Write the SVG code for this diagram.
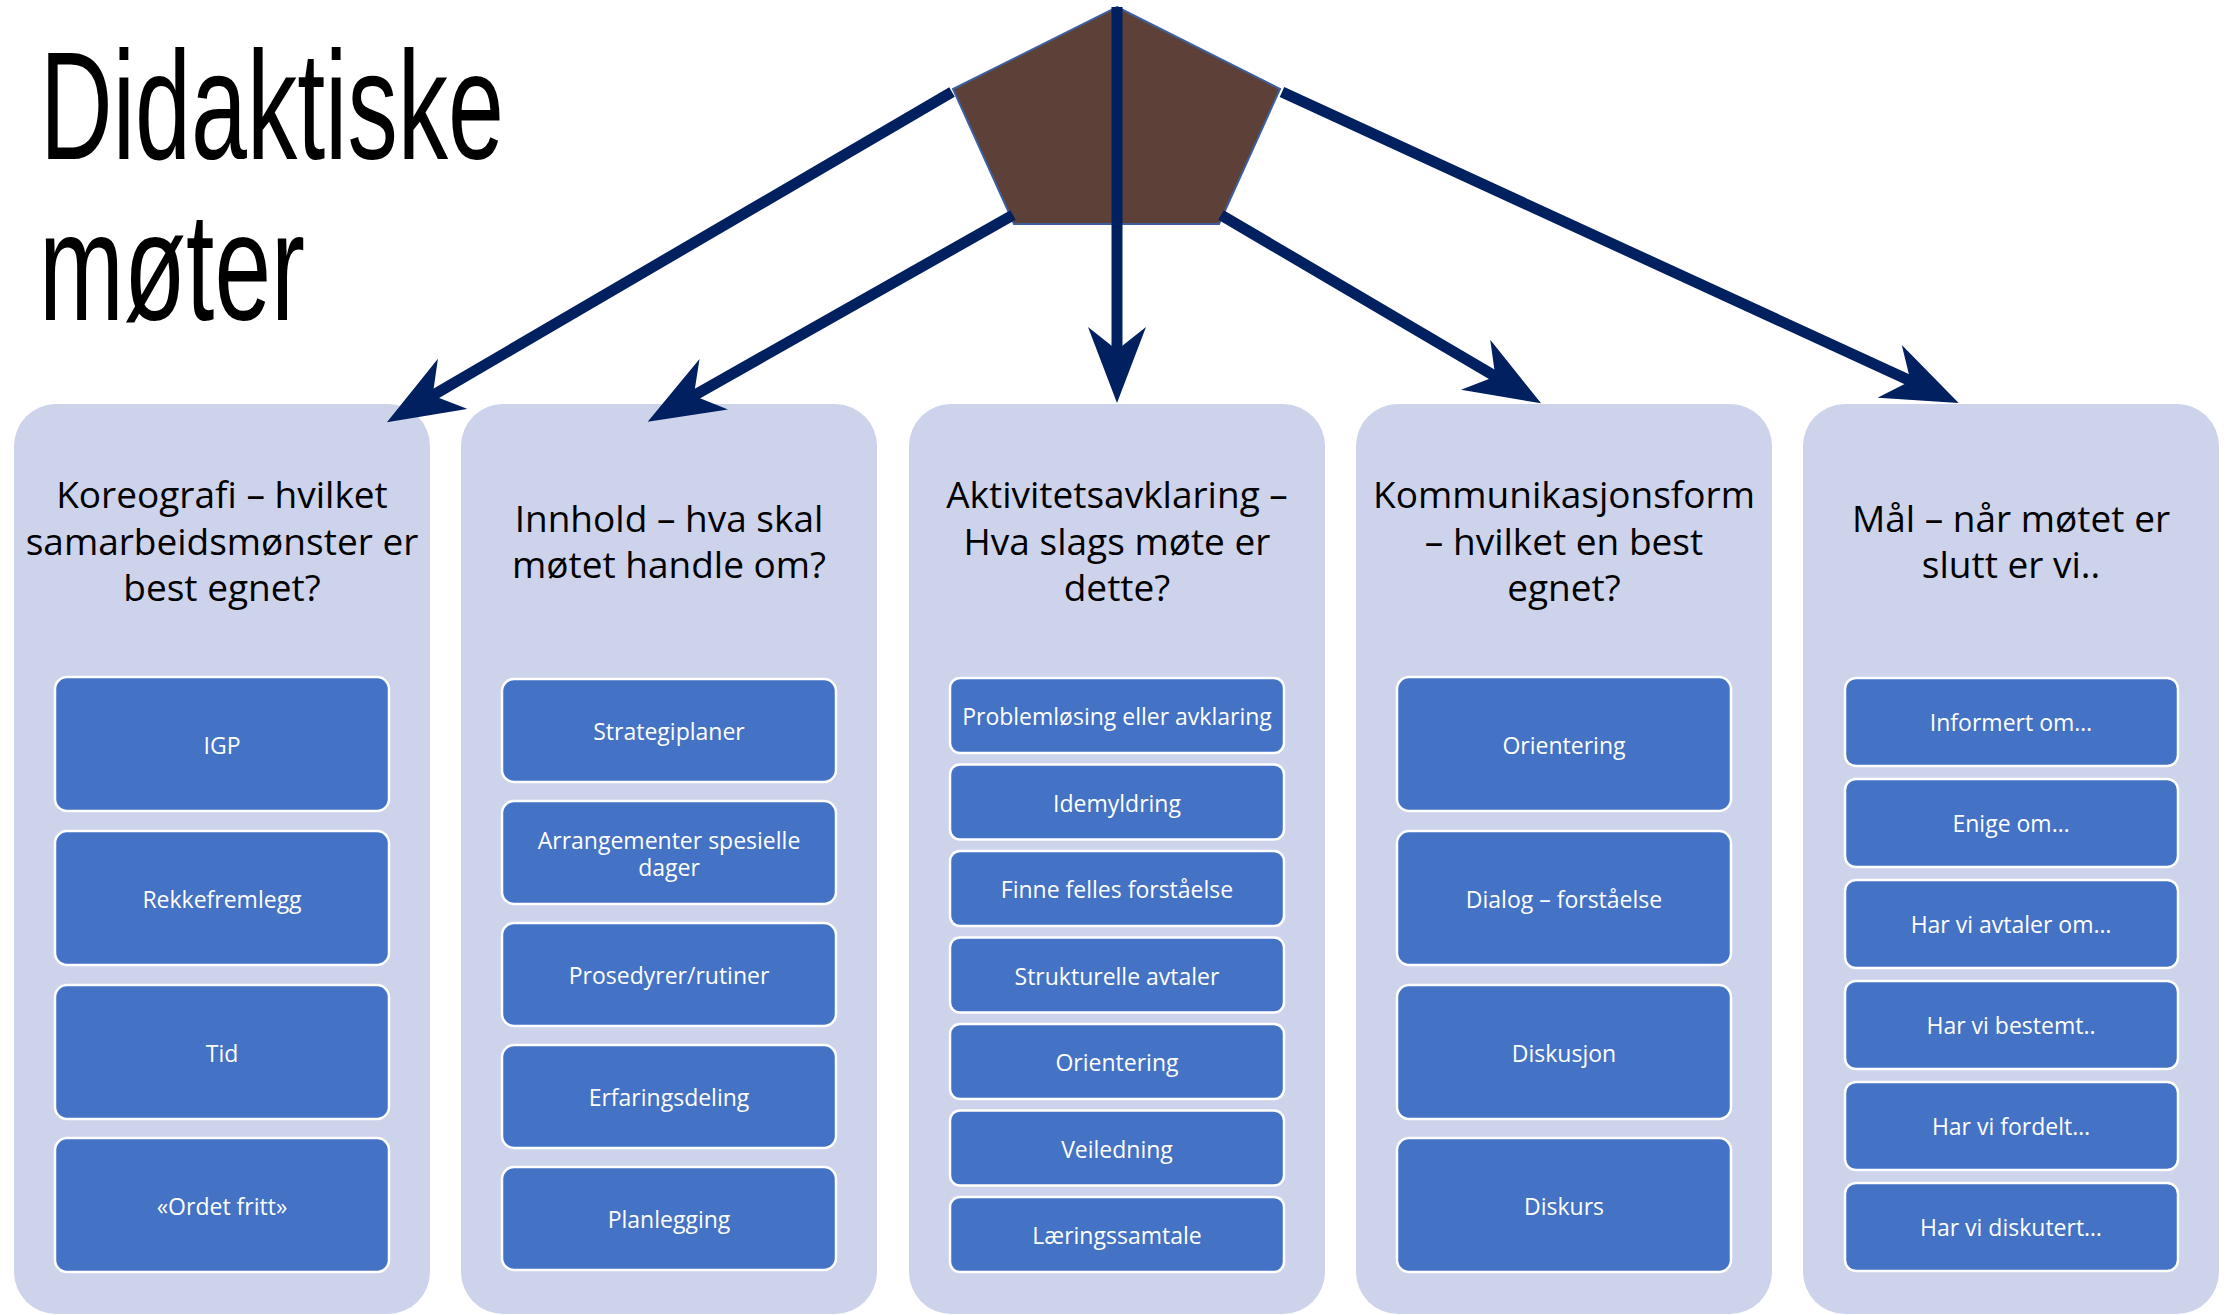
<svg xmlns="http://www.w3.org/2000/svg" width="2233" height="1315" viewBox="0 0 2233 1315">
<style>
.col{fill:#CDD3EA;}
.box{fill:#4472C4;stroke:#FFFFFF;stroke-width:2.5;}
.hdr{font-family:"Open Sans","Liberation Sans",sans-serif;font-size:37px;fill:#000000;text-anchor:middle;}
.lbl{font-family:"Open Sans","Liberation Sans",sans-serif;font-size:23px;fill:#FFFFFF;text-anchor:middle;}
.title{font-family:"Liberation Sans","DejaVu Sans",sans-serif;font-size:154px;fill:#000000;}
.conn{stroke:#002060;stroke-width:11;fill:none;marker-end:url(#ah);}
</style>
<defs>
<marker id="ah" viewBox="0 0 76 58" refX="40" refY="29" markerWidth="76" markerHeight="58" markerUnits="userSpaceOnUse" orient="auto">
<path d="M0,0 L76,29 L0,58 L23,29 Z" fill="#002060"/>
</marker>
</defs>
<rect width="2233" height="1315" fill="#FFFFFF"/>
<g id="title">
<text class="title" x="40" y="159" textLength="464" lengthAdjust="spacingAndGlyphs">Didaktiske</text>
<text class="title" x="39" y="320" textLength="266" lengthAdjust="spacingAndGlyphs">møter</text>
</g>
<g id="col1">
<rect class="col" x="14" y="404" width="416" height="910" rx="42"/>
<text class="hdr" x="222" y="508">Koreografi – hvilket</text>
<text class="hdr" x="222" y="555">samarbeidsmønster er</text>
<text class="hdr" x="222" y="601">best egnet?</text>
<g id="c1b1"><rect class="box" x="55" y="677" width="334" height="134" rx="12"/><text class="lbl" x="222" y="754">IGP</text></g>
<g id="c1b2"><rect class="box" x="55" y="831" width="334" height="134" rx="12"/><text class="lbl" x="222" y="908">Rekkefremlegg</text></g>
<g id="c1b3"><rect class="box" x="55" y="985" width="334" height="134" rx="12"/><text class="lbl" x="222" y="1062">Tid</text></g>
<g id="c1b4"><rect class="box" x="55" y="1138" width="334" height="134" rx="12"/><text class="lbl" x="222" y="1215">«Ordet fritt»</text></g>
</g>
<g id="col2">
<rect class="col" x="461" y="404" width="416" height="910" rx="42"/>
<text class="hdr" x="669" y="532">Innhold – hva skal</text>
<text class="hdr" x="669" y="578">møtet handle om?</text>
<g id="c2b1"><rect class="box" x="502" y="679" width="334" height="103" rx="12"/><text class="lbl" x="669" y="740">Strategiplaner</text></g>
<g id="c2b2"><rect class="box" x="502" y="801" width="334" height="103" rx="12"/><text class="lbl" x="669" y="849"><tspan x="669">Arrangementer spesielle</tspan><tspan x="669" dy="27">dager</tspan></text></g>
<g id="c2b3"><rect class="box" x="502" y="923" width="334" height="103" rx="12"/><text class="lbl" x="669" y="984">Prosedyrer/rutiner</text></g>
<g id="c2b4"><rect class="box" x="502" y="1045" width="334" height="103" rx="12"/><text class="lbl" x="669" y="1106">Erfaringsdeling</text></g>
<g id="c2b5"><rect class="box" x="502" y="1167" width="334" height="103" rx="12"/><text class="lbl" x="669" y="1228">Planlegging</text></g>
</g>
<g id="col3">
<rect class="col" x="909" y="404" width="416" height="910" rx="42"/>
<text class="hdr" x="1117" y="508">Aktivitetsavklaring –</text>
<text class="hdr" x="1117" y="555">Hva slags møte er</text>
<text class="hdr" x="1117" y="601">dette?</text>
<g id="c3b1"><rect class="box" x="950" y="678" width="334" height="75" rx="10"/><text class="lbl" x="1117" y="725">Problemløsing eller avklaring</text></g>
<g id="c3b2"><rect class="box" x="950" y="764.5" width="334" height="75" rx="10"/><text class="lbl" x="1117" y="811.5">Idemyldring</text></g>
<g id="c3b3"><rect class="box" x="950" y="851" width="334" height="75" rx="10"/><text class="lbl" x="1117" y="898">Finne felles forståelse</text></g>
<g id="c3b4"><rect class="box" x="950" y="937.5" width="334" height="75" rx="10"/><text class="lbl" x="1117" y="984.5">Strukturelle avtaler</text></g>
<g id="c3b5"><rect class="box" x="950" y="1024" width="334" height="75" rx="10"/><text class="lbl" x="1117" y="1071">Orientering</text></g>
<g id="c3b6"><rect class="box" x="950" y="1110.5" width="334" height="75" rx="10"/><text class="lbl" x="1117" y="1157.5">Veiledning</text></g>
<g id="c3b7"><rect class="box" x="950" y="1197" width="334" height="75" rx="10"/><text class="lbl" x="1117" y="1244">Læringssamtale</text></g>
</g>
<g id="col4">
<rect class="col" x="1356" y="404" width="416" height="910" rx="42"/>
<text class="hdr" x="1564" y="508">Kommunikasjonsform</text>
<text class="hdr" x="1564" y="555">– hvilket en best</text>
<text class="hdr" x="1564" y="601">egnet?</text>
<g id="c4b1"><rect class="box" x="1397" y="677" width="334" height="134" rx="12"/><text class="lbl" x="1564" y="754">Orientering</text></g>
<g id="c4b2"><rect class="box" x="1397" y="831" width="334" height="134" rx="12"/><text class="lbl" x="1564" y="908">Dialog – forståelse</text></g>
<g id="c4b3"><rect class="box" x="1397" y="985" width="334" height="134" rx="12"/><text class="lbl" x="1564" y="1062">Diskusjon</text></g>
<g id="c4b4"><rect class="box" x="1397" y="1138" width="334" height="134" rx="12"/><text class="lbl" x="1564" y="1215">Diskurs</text></g>
</g>
<g id="col5">
<rect class="col" x="1803" y="404" width="416" height="910" rx="42"/>
<text class="hdr" x="2011" y="532">Mål – når møtet er</text>
<text class="hdr" x="2011" y="578">slutt er vi..</text>
<g id="c5b1"><rect class="box" x="1845" y="678" width="333" height="88" rx="11"/><text class="lbl" x="2011" y="731">Informert om…</text></g>
<g id="c5b2"><rect class="box" x="1845" y="779" width="333" height="88" rx="11"/><text class="lbl" x="2011" y="832">Enige om…</text></g>
<g id="c5b3"><rect class="box" x="1845" y="880" width="333" height="88" rx="11"/><text class="lbl" x="2011" y="933">Har vi avtaler om…</text></g>
<g id="c5b4"><rect class="box" x="1845" y="981" width="333" height="88" rx="11"/><text class="lbl" x="2011" y="1034">Har vi bestemt..</text></g>
<g id="c5b5"><rect class="box" x="1845" y="1082" width="333" height="88" rx="11"/><text class="lbl" x="2011" y="1135">Har vi fordelt…</text></g>
<g id="c5b6"><rect class="box" x="1845" y="1183" width="333" height="88" rx="11"/><text class="lbl" x="2011" y="1236">Har vi diskutert…</text></g>
</g>
<g id="pentagon">
<polygon points="1117,7 1280,89 1219,224 1014,224 953,89" fill="#5D4037" stroke="#3E5F9E" stroke-width="2"/>
</g>
<g id="connectors">
<line class="conn" x1="952" y1="92" x2="418" y2="404"/>
<line class="conn" x1="1013" y1="215" x2="679" y2="404"/>
<line class="conn" x1="1117" y1="7" x2="1117" y2="367"/>
<line class="conn" x1="1221" y1="215" x2="1510" y2="385"/>
<line class="conn" x1="1282" y1="92" x2="1926" y2="388"/>
</g>
</svg>
